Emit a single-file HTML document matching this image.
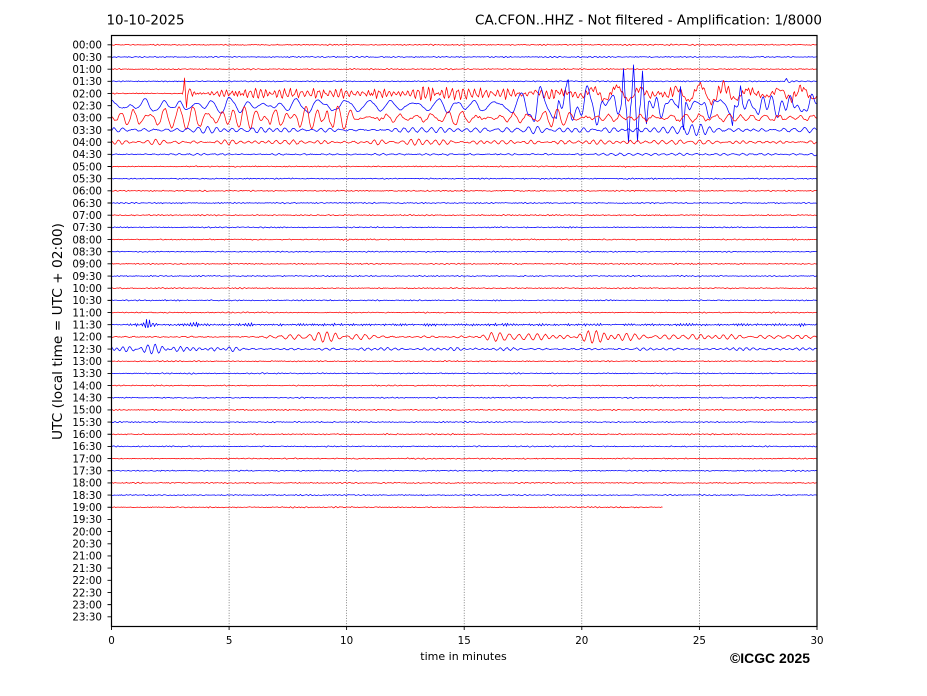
<!DOCTYPE html>
<html><head><meta charset="utf-8"><style>
html,body{margin:0;padding:0;background:#fff;}
svg{display:block;}
text{font-family:"DejaVu Sans","Liberation Sans",sans-serif;fill:#000;}
</style></head><body>
<svg id="s" width="927" height="696" viewBox="0 0 927 696" xmlns="http://www.w3.org/2000/svg">
<rect width="927" height="696" fill="#fff"/>
<g id="grid" stroke="#555" stroke-width="0.7" stroke-dasharray="1,1.6">
<line x1="229.1" y1="35.5" x2="229.1" y2="626"/>
<line x1="346.6" y1="35.5" x2="346.6" y2="626"/>
<line x1="464.2" y1="35.5" x2="464.2" y2="626"/>
<line x1="581.8" y1="35.5" x2="581.8" y2="626"/>
<line x1="699.4" y1="35.5" x2="699.4" y2="626"/>
</g>
<g id="tr" fill="none" stroke-width="0.75" stroke-linejoin="round"></g>
<rect x="111.5" y="35.5" width="705.5" height="591" fill="none" stroke="#000" stroke-width="1.2"/>
<g id="ticks" stroke="#000" stroke-width="0.9"></g>
<g font-size="10.3" text-anchor="end">
<text x="102" y="48.6">00:00</text>
<text x="102" y="60.8">00:30</text>
<text x="102" y="72.9">01:00</text>
<text x="102" y="85.1">01:30</text>
<text x="102" y="97.3">02:00</text>
<text x="102" y="109.4">02:30</text>
<text x="102" y="121.6">03:00</text>
<text x="102" y="133.8">03:30</text>
<text x="102" y="146.0">04:00</text>
<text x="102" y="158.1">04:30</text>
<text x="102" y="170.3">05:00</text>
<text x="102" y="182.5">05:30</text>
<text x="102" y="194.6">06:00</text>
<text x="102" y="206.8">06:30</text>
<text x="102" y="219.0">07:00</text>
<text x="102" y="231.2">07:30</text>
<text x="102" y="243.3">08:00</text>
<text x="102" y="255.5">08:30</text>
<text x="102" y="267.7">09:00</text>
<text x="102" y="279.8">09:30</text>
<text x="102" y="292.0">10:00</text>
<text x="102" y="304.2">10:30</text>
<text x="102" y="316.3">11:00</text>
<text x="102" y="328.5">11:30</text>
<text x="102" y="340.7">12:00</text>
<text x="102" y="352.9">12:30</text>
<text x="102" y="365.0">13:00</text>
<text x="102" y="377.2">13:30</text>
<text x="102" y="389.4">14:00</text>
<text x="102" y="401.5">14:30</text>
<text x="102" y="413.7">15:00</text>
<text x="102" y="425.9">15:30</text>
<text x="102" y="438.0">16:00</text>
<text x="102" y="450.2">16:30</text>
<text x="102" y="462.4">17:00</text>
<text x="102" y="474.6">17:30</text>
<text x="102" y="486.7">18:00</text>
<text x="102" y="498.9">18:30</text>
<text x="102" y="511.1">19:00</text>
<text x="102" y="523.2">19:30</text>
<text x="102" y="535.4">20:00</text>
<text x="102" y="547.6">20:30</text>
<text x="102" y="559.7">21:00</text>
<text x="102" y="571.9">21:30</text>
<text x="102" y="584.1">22:00</text>
<text x="102" y="596.3">22:30</text>
<text x="102" y="608.4">23:00</text>
<text x="102" y="620.6">23:30</text>
</g>
<g font-size="10.3" text-anchor="middle">
<text x="111.5" y="644">0</text>
<text x="229.1" y="644">5</text>
<text x="346.6" y="644">10</text>
<text x="464.2" y="644">15</text>
<text x="581.8" y="644">20</text>
<text x="699.4" y="644">25</text>
<text x="817" y="644">30</text>
</g>
<text x="463.5" y="660" font-size="11" text-anchor="middle">time in minutes</text>
<text x="730" y="663" font-size="14" font-weight="bold" style="font-family:'Liberation Sans',Arial,sans-serif" textLength="80" lengthAdjust="spacingAndGlyphs">©ICGC 2025</text>
<text x="106.5" y="24.5" font-size="13.3" textLength="78" lengthAdjust="spacingAndGlyphs">10-10-2025</text>
<text x="822" y="24.5" font-size="13.3" text-anchor="end" textLength="347" lengthAdjust="spacingAndGlyphs">CA.CFON..HHZ - Not filtered - Amplification: 1/8000</text>
<text transform="translate(62,331.5) rotate(-90)" font-size="13.5" text-anchor="middle" textLength="217" lengthAdjust="spacingAndGlyphs">UTC (local time = UTC + 02:00)</text>
</svg>
<script>
(function(){
var NS="http://www.w3.org/2000/svg";
var seed=987654321;
function rnd(){seed^=seed<<13;seed>>>=0;seed^=seed>>>17;seed^=seed<<5;seed>>>=0;return seed/4294967296;}
var X0=111.5,X1=817,N=706;
function Y(i){return 44.8+i*12.17;}
function band(pmin,pmax,k){
  var c=[],i,x;
  for(i=0;i<k;i++){var p=pmin+(pmax-pmin)*rnd();c.push([2*Math.PI/p,rnd()*6.283,0.6+rnd()*0.6]);}
  var a=new Array(N+1),ss=0;
  for(x=0;x<=N;x++){var s=0;for(i=0;i<c.length;i++)s+=c[i][2]*Math.sin(c[i][0]*x+c[i][1]);a[x]=s;ss+=s*s;}
  var rms=Math.sqrt(ss/(N+1))*1.4;
  for(x=0;x<=N;x++)a[x]/=rms;
  return a;
}
function env(p,xa){
  if(typeof p==="number")return p;
  if(xa<=p[0][0])return p[0][1];
  for(var i=1;i<p.length;i++){if(xa<=p[i][0]){var a=p[i-1],b=p[i];return a[1]+(b[1]-a[1])*(xa-a[0])/(b[0]-a[0]);}}
  return p[p.length-1][1];
}
var spec={
 3:{c:[[3,6,14,0.25]],s:[[786.5,-2.5,2],[789.5,1.5,2]]},
 4:{c:[[3,6,16,[[111,0.25],[182,0.25],[184,3.2],[400,3],[420,4.5],[460,4.5],[480,3],[540,3],[817,3]]],[15,30,10,[[111,0],[500,0],[540,2.5],[600,4],[817,4]]]],s:[[184.5,-13,1.6],[186.5,12,1.6],[189.5,-6,1.6]]},
 5:{c:[[15,30,12,[[111,5],[500,5],[535,8],[615,8],[620,3],[648,3],[655,8],[817,8]]],[7,13,12,[[111,1],[520,1],[540,6],[615,6],[620,2],[648,2],[655,6],[817,6]]]],s:[[623.5,-35,2.2],[628.5,35,2.2],[633.5,-38,2.2],[637.5,37,2.2],[642.5,-38,2.2],[646.5,18,2],[680.5,-26,2],[683.5,22,2],[732.5,17,2],[740.5,-14,2],[568.5,-15,2],[556.5,12,2]]},
 6:{c:[[9,16,14,[[111,7],[350,7],[360,3.5],[420,3.5],[430,7],[470,7],[480,3.5],[817,3.5]]],[3,5,10,0.7]]},
 7:{c:[[7,12,14,[[111,1.8],[590,1.8],[600,3],[700,3],[710,2],[817,2]]]]},
 8:{c:[[6,10,14,1.5]]},
 9:{c:[[6,10,14,0.6]]},
 23:{c:[[2,4,14,[[111,0.6],[135,0.6],[138,3.5],[152,3],[158,0.8],[188,0.8],[190,1.8],[200,1.8],[203,0.8],[817,0.8]]]]},
 24:{c:[[7,10,16,[[111,0.3],[260,0.3],[280,2.3],[350,2.3],[380,0.7],[470,0.7],[490,3.5],[560,3.5],[580,5],[620,3.5],[700,2.5],[720,1.2],[817,1.8]]]]},
 25:{c:[[6,9,16,[[111,2.5],[230,2.5],[240,0.8],[817,0.8]]]]}
};
var g=document.getElementById("tr");
for(var i=0;i<=38;i++){
  var sp=spec[i]||{c:[[3,6,14,0.25]]};
  var comps=sp.c.map(function(q){return {a:band(q[0],q[1],q[2]),e:q[3]};});
  var end=(i===38)?663:X1;
  var y0=Y(i),d="";
  for(var x=0;x<=N;x++){
    var xa=X0+x; if(xa>end)break;
    var v=0;
    for(var k=0;k<comps.length;k++)v+=comps[k].a[x]*env(comps[k].e,xa);
    if(sp.s){for(var m=0;m<sp.s.length;m++){var q=sp.s[m];var t=1-Math.abs(xa-q[0])/q[2];if(t>0)v+=q[1]*t;}}
    v+=(rnd()-0.5)*0.7;
    d+=(x===0?"M":"L")+xa.toFixed(1)+" "+(y0+v).toFixed(2);
  }
  var p=document.createElementNS(NS,"path");
  p.setAttribute("d",d);
  p.setAttribute("stroke",i%2===0?"#ff0000":"#0000ff");
  g.appendChild(p);
}
var t=document.getElementById("ticks"),td="";
for(var j=0;j<48;j++){var yy=Y(j).toFixed(2);td+="M107.5 "+yy+"L111.5 "+yy;}
var xs=[111.5,229.1,346.6,464.2,581.8,699.4,817];
for(var j=0;j<xs.length;j++){td+="M"+xs[j]+" 626L"+xs[j]+" 630";}
var tp=document.createElementNS(NS,"path");tp.setAttribute("d",td);t.appendChild(tp);
})();
</script>
</body></html>
